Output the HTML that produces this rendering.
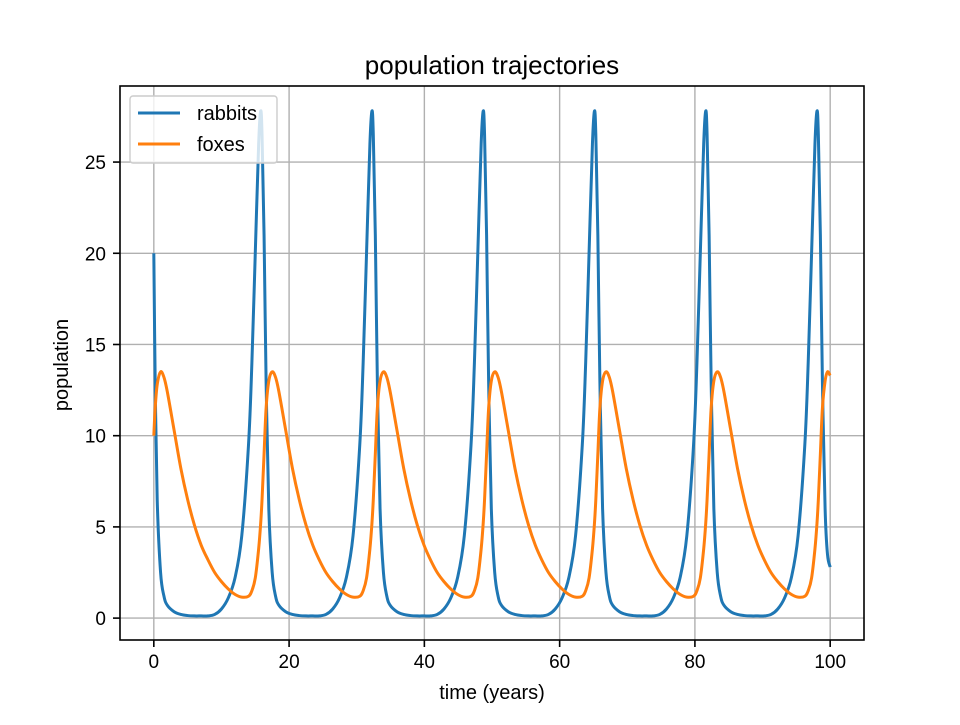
<!DOCTYPE html>
<html><head><meta charset="utf-8"><style>
body{margin:0;background:#fff;}
svg text{font-family:"Liberation Sans","DejaVu Sans",sans-serif;fill:#000;}
</style></head><body>
<svg id="chart" width="960" height="720" viewBox="0 0 960 720">
<rect width="960" height="720" fill="#fff"/>
<g id="grid"></g>
<g id="series"></g>
<rect x="120" y="86" width="744" height="554" fill="none" stroke="#000" stroke-width="1.6"/>
<g id="ticks"></g>
<text x="492" y="74" style="font-size:26px" text-anchor="middle">population trajectories</text>
<text x="492" y="699" style="font-size:20px" text-anchor="middle">time (years)</text>
<text x="68" y="365" style="font-size:20px" text-anchor="middle" transform="rotate(-90 68 365)">population</text>
<g>
<rect x="130" y="96" width="147" height="67" rx="3" fill="#fff" fill-opacity="0.8" stroke="#ccc" stroke-width="1.4"/>
<g>
<line x1="138" y1="113" x2="180" y2="113" stroke="#1f77b4" stroke-width="3"/>
<text x="197" y="120" style="font-size:20px">rabbits</text></g>
<g>
<line x1="138" y1="144" x2="180" y2="144" stroke="#ff7f0e" stroke-width="3"/>
<text x="197" y="151" style="font-size:20px">foxes</text></g>
</g>
</svg>
<script>
const xTicks = [0, 20, 40, 60, 80, 100];
const yTicks = [0, 5, 10, 15, 20, 25];
const times = [0,0.2,0.5,1.0,1.5,2.0,3.0,4.0,5.0,6.0,7.0,
8,9,10,11,12,13,14,14.5,15,15.5,15.8,16.0,16.3,16.6,17.0,17.5,18.0,18.5,19.5,20.5,21.5,22.5,23.5,
24.45,25.45,26.45,27.45,28.45,29.45,30.45,30.95,31.45,31.95,32.25,32.45,32.75,33.05,33.45,33.95,34.45,34.95,35.95,36.95,37.95,38.95,39.95,
40.9,41.9,42.9,43.9,44.9,45.9,46.9,47.4,47.9,48.4,48.7,48.9,49.2,49.5,49.9,50.4,50.9,51.4,52.4,53.4,54.4,55.4,56.4,
57.35,58.35,59.35,60.35,61.35,62.35,63.35,63.85,64.35,64.85,65.15,65.35,65.65,65.95,66.35,66.85,67.35,67.85,68.85,69.85,70.85,71.85,72.85,
73.8,74.8,75.8,76.8,77.8,78.8,79.8,80.3,80.8,81.3,81.6,81.8,82.1,82.4,82.8,83.3,83.8,84.3,85.3,86.3,87.3,88.3,89.3,
90.25,91.25,92.25,93.25,94.25,95.25,96.25,96.75,97.25,97.75,98.05,98.25,98.55,98.85,99.25,99.6,100];
const rabbits = [20,13,6.5,2.5,1.2,0.7,0.35,0.2,0.14,0.12,0.12,
0.12,0.2,0.5,1.1,2.2,4.5,9.5,14,20,26,27.8,26.5,21,13,6,2.5,1.2,0.7,0.35,0.2,0.14,0.12,0.12,
0.12,0.2,0.5,1.1,2.2,4.5,9.5,14,20,26,27.8,26.5,21,13,6,2.5,1.2,0.7,0.35,0.2,0.14,0.12,0.12,
0.12,0.2,0.5,1.1,2.2,4.5,9.5,14,20,26,27.8,26.5,21,13,6,2.5,1.2,0.7,0.35,0.2,0.14,0.12,0.12,
0.12,0.2,0.5,1.1,2.2,4.5,9.5,14,20,26,27.8,26.5,21,13,6,2.5,1.2,0.7,0.35,0.2,0.14,0.12,0.12,
0.12,0.2,0.5,1.1,2.2,4.5,9.5,14,20,26,27.8,26.5,21,13,6,2.5,1.2,0.7,0.35,0.2,0.14,0.12,0.12,
0.12,0.2,0.5,1.1,2.2,4.5,9.5,14,20,26,27.8,26.5,21,13,6,3.5,2.8];
const foxes = [10,11.5,12.8,13.5,13.2,12.4,10.3,8.2,6.5,5.1,4.0,
3.2,2.5,2.0,1.6,1.3,1.15,1.2,1.5,2.2,3.8,5.2,6.5,9,11.5,13,13.5,13.2,12.4,10.3,8.2,6.5,5.1,4.0,
3.2,2.5,2.0,1.6,1.3,1.15,1.2,1.5,2.2,3.8,5.2,6.5,9,11.5,13,13.5,13.2,12.4,10.3,8.2,6.5,5.1,4.0,
3.2,2.5,2.0,1.6,1.3,1.15,1.2,1.5,2.2,3.8,5.2,6.5,9,11.5,13,13.5,13.2,12.4,10.3,8.2,6.5,5.1,4.0,
3.2,2.5,2.0,1.6,1.3,1.15,1.2,1.5,2.2,3.8,5.2,6.5,9,11.5,13,13.5,13.2,12.4,10.3,8.2,6.5,5.1,4.0,
3.2,2.5,2.0,1.6,1.3,1.15,1.2,1.5,2.2,3.8,5.2,6.5,9,11.5,13,13.5,13.2,12.4,10.3,8.2,6.5,5.1,4.0,
3.2,2.5,2.0,1.6,1.3,1.15,1.2,1.5,2.2,3.8,5.2,6.5,9,11.5,13,13.5,13.3];

const NS = "http://www.w3.org/2000/svg";
const L = 120, R = 864, T = 86, B = 640;
const xMin = -5, xMax = 105, yMin = -1.2, yMax = 29.17;
function xs(v){ return L + (v - xMin) / (xMax - xMin) * (R - L); }
function ys(v){ return B - (v - yMin) / (yMax - yMin) * (B - T); }
function mk(tag, attrs, parent){ const e = document.createElementNS(NS, tag); for (const k in attrs) e.setAttribute(k, attrs[k]); parent.appendChild(e); return e; }

const grid = document.getElementById('grid');
const ticks = document.getElementById('ticks');
xTicks.forEach(v => {
  const x = xs(v);
  const g = mk('line', {x1:x, x2:x, y1:T, y2:B, stroke:'#b0b0b0', 'stroke-width':1.4}, grid);
  
  
  const t = mk('line', {x1:x, x2:x, y1:B, y2:B+7, stroke:'#000', 'stroke-width':1.6}, ticks);
  
  
  const lb = mk('text', {x:x, y:B+28, style:'font-size:19px', 'text-anchor':'middle'}, ticks);
  lb.textContent = String(v);
  
  
});
yTicks.forEach(v => {
  const y = ys(v);
  const g = mk('line', {x1:L, x2:R, y1:y, y2:y, stroke:'#b0b0b0', 'stroke-width':1.4}, grid);
  
  
  const t = mk('line', {x1:L-7, x2:L, y1:y, y2:y, stroke:'#000', 'stroke-width':1.6}, ticks);
  
  
  const lb = mk('text', {x:L-14, y:y+7, style:'font-size:19px', 'text-anchor':'end'}, ticks);
  lb.textContent = String(v);
  
  
});

function smoothPath(xsArr, ysArr){
  const p = xsArr.map((t,i)=>[xs(t), ys(ysArr[i])]);
  let d = 'M' + p[0][0] + ',' + p[0][1];
  for (let i = 0; i < p.length - 1; i++){
    const p0 = p[Math.max(0,i-1)], p1 = p[i], p2 = p[i+1], p3 = p[Math.min(p.length-1,i+2)];
    const c1x = p1[0] + (p2[0]-p0[0])/6, c1y = p1[1] + (p2[1]-p0[1])/6;
    const c2x = p2[0] - (p3[0]-p1[0])/6, c2y = p2[1] - (p3[1]-p1[1])/6;
    d += ' C' + c1x + ',' + c1y + ' ' + c2x + ',' + c2y + ' ' + p2[0] + ',' + p2[1];
  }
  return d;
}
const series = document.getElementById('series');
const rl = mk('path', {d: smoothPath(times, rabbits), fill:'none', stroke:'#1f77b4', 'stroke-width':3, 'stroke-linejoin':'round'}, series);


const fl = mk('path', {d: smoothPath(times, foxes), fill:'none', stroke:'#ff7f0e', 'stroke-width':3, 'stroke-linejoin':'round'}, series);


</script>
</body></html>
